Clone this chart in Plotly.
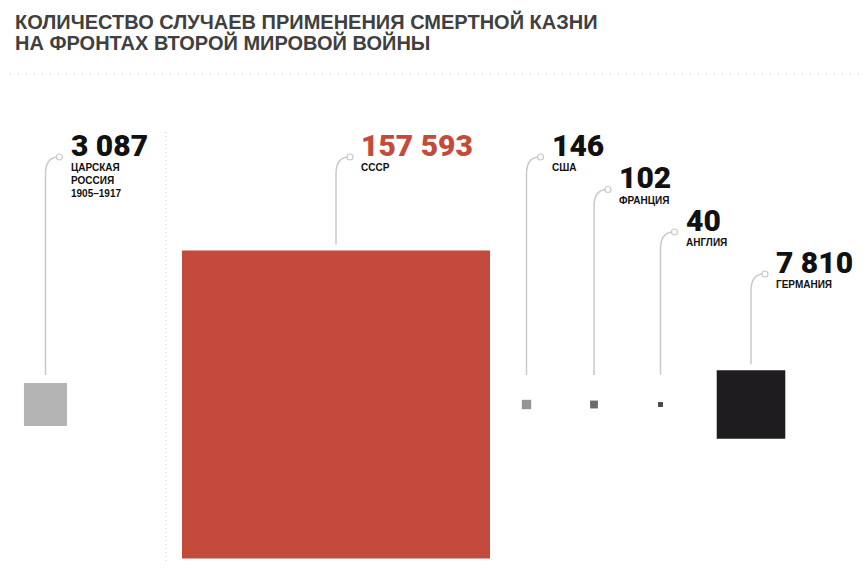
import numpy as np
import plotly.graph_objects as go

# Data: number of death sentences carried out
countries = ["Царская Россия", "СССР", "США", "Франция", "Англия", "Германия"]
values = [3087, 157593, 146, 102, 40, 7810]
value_labels = ["3 087", "157 593", "146", "102", "40", "7 810"]
name_labels = ["ЦАРСКАЯ<br>РОССИЯ<br>1905–1917", "СССР", "США", "ФРАНЦИЯ", "АНГЛИЯ", "ГЕРМАНИЯ"]

# Layout / style (pixel-like axis units)
W, H = 867, 572
OFF = 8  # page body margin
square_x = [45.5, 336, 526.5, 594, 660.5, 751]
label_top = [135, 135, 135, 167.5, 210, 252]
square_colors = ["#b4b4b4", "#c44b3c", "#959595", "#6a6a6a", "#474747", "#1e1c1f"]
number_colors = ["#111111", "#c44b3c", "#111111", "#111111", "#111111", "#111111"]
CENTER_Y = 404.5
SIDE_PER_SQRT = 308 / np.sqrt(157593)
LINE_COLOR = "#c9c9c9"

sides = [SIDE_PER_SQRT * np.sqrt(v) for v in values]

fig = go.Figure()

# squares, area proportional to value
fig.add_trace(go.Scatter(
    x=square_x, y=[CENTER_Y] * len(values),
    mode="markers",
    marker=dict(symbol="square", size=sides, color=square_colors,
                opacity=1, line=dict(width=0)),
    text=countries, hoverinfo="skip", showlegend=False,
))

shapes = []
annotations = []
for i in range(len(values)):
    x = square_x[i]
    t = label_top[i]
    cy = t + 22
    cx = x + 14
    top = CENTER_Y - sides[i] / 2
    bottom = min(375, top - 6)
    path = (f"M {x},{bottom} L {x},{cy + 17} "
            f"C {x},{cy + 6} {x + 4},{cy + 1} {cx - 3},{cy}")
    shapes.append(dict(type="path", path=path, xref="x", yref="y",
                       line=dict(color=LINE_COLOR, width=1.5)))
    shapes.append(dict(type="circle", xref="x", yref="y",
                       x0=cx - 3, x1=cx + 3, y0=cy - 3, y1=cy + 3,
                       line=dict(color=LINE_COLOR, width=1.2), fillcolor="white"))
    annotations.append(dict(
        x=x + 23, y=t + 10, xref="x", yref="y", xanchor="left", yanchor="middle",
        text=value_labels[i], showarrow=False,
        font=dict(family="Roboto", size=30, weight=900, color=number_colors[i]),
    ))
    annotations.append(dict(
        x=x + 23, y=t + 25, xref="x", yref="y", xanchor="left", yanchor="top",
        text=name_labels[i], showarrow=False, align="left",
        font=dict(family="Liberation Sans", size=10, weight="bold", color="#111111"),
    ))

# title
title_lines = ["КОЛИЧЕСТВО СЛУЧАЕВ ПРИМЕНЕНИЯ СМЕРТНОЙ КАЗНИ", "НА ФРОНТАХ ВТОРОЙ МИРОВОЙ ВОЙНЫ"]
for j, line in enumerate(title_lines):
    annotations.append(dict(
        x=13, y=21 + j * 21, xref="x", yref="y", xanchor="left", yanchor="middle",
        text=line, showarrow=False,
        font=dict(family="Liberation Sans", size=20, weight="bold", color="#404040"),
    ))

# dotted separators
shapes.append(dict(type="line", xref="x", yref="y", x0=10, x1=860, y0=74, y1=74,
                   line=dict(color="#c4c8cc", width=1, dash="1px,7px")))
shapes.append(dict(type="line", xref="x", yref="y", x0=166, x1=166, y0=132, y1=564,
                   line=dict(color="#c4c8cc", width=1, dash="1px,3px")))

fig.update_layout(
    width=W - OFF, height=H - OFF,
    margin=dict(l=0, r=0, t=0, b=0),
    paper_bgcolor="white", plot_bgcolor="white",
    xaxis=dict(range=[OFF, W], visible=False, fixedrange=True),
    yaxis=dict(range=[H, OFF], visible=False, fixedrange=True),
    shapes=shapes, annotations=annotations,
    showlegend=False,
)

fig.write_html("out.html")
